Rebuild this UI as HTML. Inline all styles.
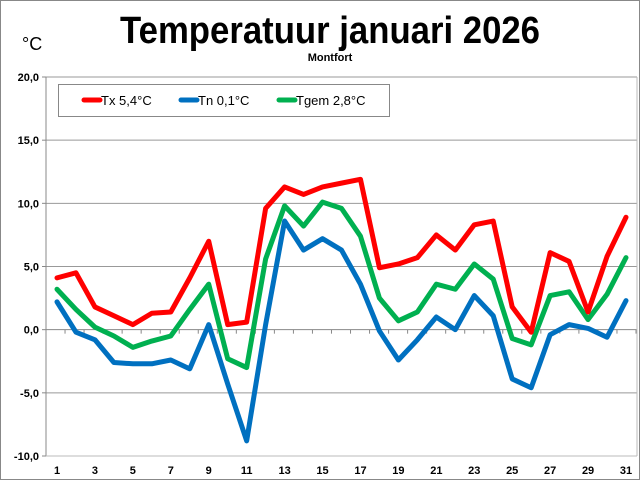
<!DOCTYPE html>
<html><head><meta charset="utf-8"><style>
body{margin:0;background:#fff;}
svg{display:block;font-family:"Liberation Sans",sans-serif;}
</style></head><body>
<svg id="chart" width="640" height="480">
<rect x="0.5" y="0.5" width="639" height="479" fill="#fff" stroke="#888"/>
<text x="330" y="43" text-anchor="middle" font-family="'Liberation Sans Narrow','Liberation Sans',sans-serif" font-weight="bold" font-size="38" textLength="420" lengthAdjust="spacingAndGlyphs">Temperatuur januari 2026</text>
<text x="330" y="61" text-anchor="middle" font-size="11" font-weight="bold">Montfort</text>
<text x="22" y="50" font-size="18">°C</text>
<g id="grid"></g>
<g id="axes"></g>
<g id="series"></g>
<g>
<rect x="58.5" y="84.5" width="331" height="32" fill="#fff" stroke="#888"/>
<line x1="84" y1="100" x2="100" y2="100" stroke="#ff0000" stroke-width="5" stroke-linecap="round"/>
<text x="101" y="105" font-size="13">Tx 5,4°C</text>
<line x1="181" y1="100" x2="197" y2="100" stroke="#0070c0" stroke-width="5" stroke-linecap="round"/>
<text x="198" y="105" font-size="13">Tn 0,1°C</text>
<line x1="279" y1="100" x2="295" y2="100" stroke="#00b050" stroke-width="5" stroke-linecap="round"/>
<text x="296" y="105" font-size="13">Tgem 2,8°C</text>
</g>
</svg>
<script>
const days=[1,2,3,4,5,6,7,8,9,10,11,12,13,14,15,16,17,18,19,20,21,22,23,24,25,26,27,28,29,30,31];
const tx=[4.1,4.5,1.8,1.1,0.4,1.3,1.4,4.1,7.0,0.4,0.6,9.6,11.3,10.7,11.3,11.6,11.9,4.9,5.2,5.7,7.5,6.3,8.3,8.6,1.8,-0.2,6.1,5.4,1.4,5.8,8.9];
const tn=[2.2,-0.2,-0.8,-2.6,-2.7,-2.7,-2.4,-3.1,0.4,-4.3,-8.8,0.4,8.6,6.3,7.2,6.3,3.6,-0.1,-2.4,-0.8,1.0,0.0,2.7,1.1,-3.9,-4.6,-0.4,0.4,0.1,-0.6,2.3];
const tgem=[3.2,1.6,0.2,-0.5,-1.4,-0.9,-0.5,1.6,3.6,-2.3,-3.0,5.6,9.8,8.2,10.1,9.6,7.4,2.5,0.7,1.4,3.6,3.2,5.2,4.0,-0.7,-1.2,2.7,3.0,0.8,2.8,5.7];
const yTicks=[20,15,10,5,0,-5,-10];
const yLabels=["20,0","15,0","10,0","5,0","0,0","-5,0","-10,0"];
const NS="http://www.w3.org/2000/svg";
const X0=46,X1=637,Y20=77,Ym10=456;
function xs(i){return 57+(i-1)*((626-57)/30);}
function ys(v){return Y20+(20-v)*(Ym10-Y20)/30;}
function mk(t,a,p){const e=document.createElementNS(NS,t);for(const k in a)e.setAttribute(k,a[k]);p.appendChild(e);return e;}
const grid=document.getElementById('grid'),axes=document.getElementById('axes'),ser=document.getElementById('series');
yTicks.forEach((v,i)=>{
  if(v!==-10){const l=mk('line',{x1:X0,x2:X1,y1:ys(v),y2:ys(v),stroke:v===0?'#888':'#999','stroke-width':1},grid);
  
  }
  mk('line',{x1:X0-4,x2:X0,y1:ys(v),y2:ys(v),stroke:'#888'},axes);
  const t=mk('text',{x:X0-7,y:ys(v)+4,'text-anchor':'end','font-size':11,'font-weight':'bold'},axes);
  t.textContent=yLabels[i];
  
  
});
mk('line',{x1:X0,x2:X0,y1:Y20,y2:Ym10,stroke:'#888'},axes);
mk('line',{x1:X0,x2:X1,y1:Ym10,y2:Ym10,stroke:'#bbb'},axes);
mk('line',{x1:X1,x2:X1,y1:Y20,y2:Ym10,stroke:'#bbb'},axes);
for(let k=0;k<=31;k++){const x=X0+k*((X1-X0-1)/31);mk('line',{x1:x,x2:x,y1:ys(0),y2:ys(0)+4,stroke:'#888'},axes);}
days.forEach((d,i)=>{if(i%2===0){const t=mk('text',{x:xs(d),y:474,'text-anchor':'middle','font-size':11,'font-weight':'bold'},axes);t.textContent=d;

}});
function line(arr,col,name){const p=mk('polyline',{points:arr.map((v,i)=>xs(days[i])+','+ys(v)).join(' '),fill:'none',stroke:col,'stroke-width':5,'stroke-linejoin':'round','stroke-linecap':'round'},ser);

}
line(tgem,'#00b050','series-tgem');
line(tn,'#0070c0','series-tn');
line(tx,'#ff0000','series-tx');
</script>
</body></html>
